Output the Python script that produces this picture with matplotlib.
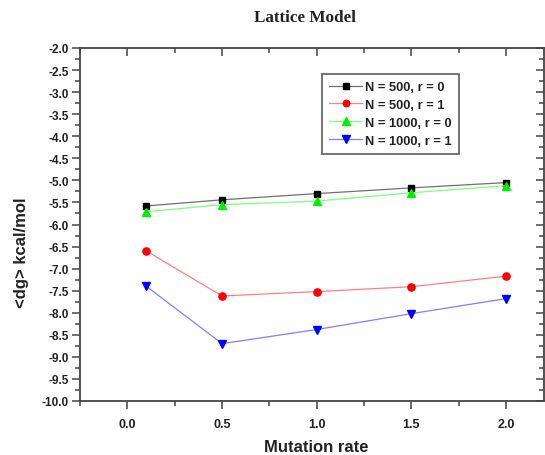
import matplotlib
matplotlib.use("Agg")
import matplotlib.pyplot as plt
from matplotlib.ticker import MultipleLocator, FormatStrFormatter

mutation_rate = [0.1, 0.5, 1.0, 1.5, 2.0]
n500_r0 = [-5.58, -5.44, -5.30, -5.17, -5.05]
n500_r1 = [-6.60, -7.62, -7.52, -7.41, -7.17]
n1000_r0 = [-5.71, -5.55, -5.47, -5.28, -5.12]
n1000_r1 = [-7.40, -8.70, -8.38, -8.02, -7.68]
labels = ["N = 500, r = 0", "N = 500, r = 1", "N = 1000, r = 0", "N = 1000, r = 1"]

plt.rcParams['font.family'] = ['Liberation Sans', 'DejaVu Sans']
plt.rcParams['font.weight'] = 'bold'

fig = plt.figure(figsize=(5.45, 4.56), dpi=100)
ax = fig.add_axes([80/545, 1-402/456, (544-80)/545, (402-49)/456])

series = [
    (n500_r0, '#707070', 'black', 's', 4.3),
    (n500_r1, '#ff8080', 'red', 'o', 5.2),
    (n1000_r0, '#80ff80', '#00ee00', '^', 6.0),
    (n1000_r1, '#8080ff', 'blue', 'v', 6.0),
]
for (vals, lc, mc, mk, ms), lab in zip(series, labels):
    ax.plot(mutation_rate, vals, color=lc, lw=0.9, marker=mk, ms=ms,
            mfc=mc, mec=mc, label=lab)

ax.set_xlim(-0.25, 2.2)
ax.set_ylim(-10.0, -2.0)
ax.xaxis.set_major_locator(MultipleLocator(0.5))
ax.xaxis.set_minor_locator(MultipleLocator(0.25))
ax.yaxis.set_major_locator(MultipleLocator(0.5))
ax.yaxis.set_minor_locator(MultipleLocator(0.25))
ax.xaxis.set_major_formatter(FormatStrFormatter('%.1f'))
ax.yaxis.set_major_formatter(FormatStrFormatter('%.1f'))

for s in ax.spines.values():
    s.set_color('#444444')
    s.set_linewidth(1.3)

ax.tick_params(which='both', direction='out', colors='#444444', labelcolor='#222222',
               width=1.1)
ax.tick_params(axis='y', labelsize=8.5)
ax.tick_params(axis='x', labelsize=9)
ax.tick_params(which='major', length=6, pad=2)
ax.tick_params(which='minor', length=3.5)
ax.tick_params(axis='x', pad=6)

# mirrored ticks on top and right pointing inward
secx = ax.secondary_xaxis('top')
secx.xaxis.set_major_locator(MultipleLocator(0.5))
secx.xaxis.set_minor_locator(MultipleLocator(0.25))
secx.tick_params(which='both', direction='in', labeltop=False, colors='#444444', width=1.1)
secx.tick_params(which='major', length=6)
secx.tick_params(which='minor', length=3.5)
secx.spines['top'].set_visible(False)
secy = ax.secondary_yaxis('right')
secy.yaxis.set_major_locator(MultipleLocator(0.5))
secy.yaxis.set_minor_locator(MultipleLocator(0.25))
secy.tick_params(which='both', direction='in', labelright=False, colors='#444444', width=1.1)
secy.tick_params(which='major', length=6)
secy.tick_params(which='minor', length=3.5)
secy.spines['right'].set_visible(False)

for lbl in ax.get_xticklabels() + ax.get_yticklabels():
    lbl.set_fontweight('bold')

fig.text(316/545, 1-448/456, 'Mutation rate', fontsize=12, fontweight='bold',
         ha='center', va='center', color='#222222')
fig.text(22/545, 1-253/456, '<dg> kcal/mol', fontsize=12, fontweight='bold',
         ha='center', va='center', rotation=90, color='#222222')

fig.text(305/545, 1-18/456, 'Lattice Model', family=['Liberation Serif', 'DejaVu Serif'],
         fontsize=12.3, fontweight='bold', ha='center', va='center', color='#222222')

leg = ax.legend(loc='upper left', bbox_to_anchor=((321.7-80)/464, (402-75)/353),
                borderaxespad=0, fancybox=False, frameon=True, fontsize=9.3,
                handlelength=2.6, handletextpad=0.2, labelspacing=0.45,
                borderpad=0.55, markerscale=0.9)
leg.get_frame().set_edgecolor('#444444')
leg.get_frame().set_linewidth(1.3)
for t in leg.get_texts():
    t.set_fontweight('bold')
    t.set_color('#222222')

fig.savefig('out.png', dpi=100)
